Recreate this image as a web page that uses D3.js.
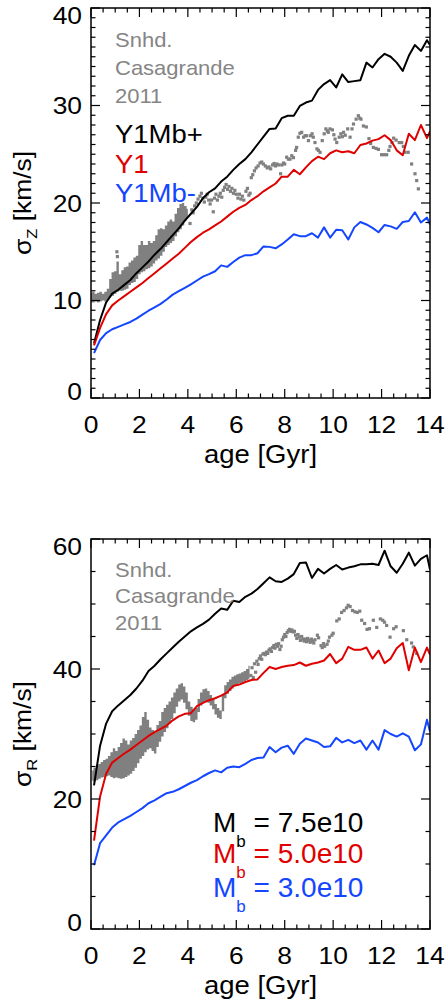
<!DOCTYPE html>
<html><head><meta charset="utf-8">
<script src="https://cdn.jsdelivr.net/npm/d3@7"></script>
<style>body{margin:0;background:#fff}svg{display:block}</style>
</head><body>
<script>
// ---------- DATA ----------
const ages = [0.125,0.375,0.625,0.875,1.125,1.375,1.625,1.875,2.125,2.375,2.625,2.875,3.125,3.375,3.625,3.875,4.125,4.375,4.625,4.875,5.125,5.375,5.625,5.875,6.125,6.375,6.625,6.875,7.125,7.375,7.625,7.875,8.125,8.375,8.625,8.875,9.125,9.375,9.625,9.875,10.125,10.375,10.625,10.875,11.125,11.375,11.625,11.875,12.125,12.375,12.625,12.875,13.125,13.375,13.625,13.875,14.0];

const sigZ_Y1Mbp = [5.6,8.0,9.8,10.7,11.1,11.6,12.1,12.8,13.4,14.0,14.7,15.3,16.0,16.7,17.4,18.2,18.9,19.6,20.5,21.1,21.5,22.2,22.7,23.4,24.0,24.5,25.2,26.0,26.8,27.6,27.65,28.7,28.95,28.95,29.95,30.3,30.5,31.6,32.2,32.6,31.85,33.2,32.4,32.5,32.6,34.4,33.9,34.75,35.3,35.0,34.4,33.55,35.1,36.2,35.6,36.7,36.2];
const sigZ_Y1 = [5.4,7.2,8.6,9.5,10.0,10.45,10.9,11.35,11.8,12.3,12.8,13.3,13.8,14.3,14.8,15.4,16.0,16.5,16.95,17.3,17.7,18.1,18.6,19.1,19.5,19.8,20.3,20.7,21.2,21.6,22.0,22.7,22.7,23.4,22.95,23.65,24.3,24.75,24.5,25.1,25.4,25.2,25.3,25.1,25.95,26.1,26.4,26.55,26.95,26.45,25.4,24.9,27.1,26.45,28.0,26.65,27.35];
const sigZ_Y1Mbm = [4.6,5.95,6.65,7.05,7.3,7.55,7.8,8.15,8.55,8.95,9.3,9.65,10.1,10.6,10.95,11.3,11.65,12.05,12.45,12.7,13.0,13.6,13.45,13.95,14.4,14.65,14.65,14.85,15.55,15.5,15.35,15.75,16.25,16.8,16.6,16.6,16.9,16.45,17.5,16.45,17.25,17.2,16.25,17.5,18.05,17.8,17.45,17.0,17.75,17.6,17.35,18.05,18.15,19.05,18.0,18.5,17.8];

const sigR_Y1Mbp = [22.1,28.2,31.6,33.5,34.4,35.2,36.0,37.0,38.2,39.7,40.5,41.5,42.4,43.3,44.2,45.0,45.8,46.4,46.95,47.6,48.5,49.3,49.1,50.5,50.3,51.1,51.6,52.3,53.2,54.1,53.5,53.4,53.9,54.6,56.3,56.4,54.0,55.4,54.7,55.4,56.0,55.3,55.6,55.8,56.1,56.1,56.2,56.0,58.2,55.8,54.8,56.2,57.9,55.9,56.95,57.5,55.3];
const sigR_Y1 = [13.6,20.4,23.9,25.6,26.3,27.0,27.6,28.3,29.0,29.7,30.3,30.8,31.3,32.1,32.7,33.1,33.2,34.3,34.8,35.2,35.5,35.9,36.4,37.4,37.6,38.0,38.3,38.4,39.4,40.3,40.0,40.3,40.5,40.6,41.0,40.5,40.8,41.0,41.3,42.3,40.9,41.6,43.4,42.95,42.95,43.3,41.6,42.85,40.9,41.6,43.2,44.0,39.8,43.3,41.05,43.3,42.2];
const sigR_Y1Mbm = [9.8,13.2,14.4,15.6,16.4,16.9,17.4,18.0,18.6,19.35,19.8,20.35,20.9,21.1,21.5,22.0,22.5,22.9,23.5,24.0,24.4,24.1,24.8,25.0,24.9,25.4,26.0,26.3,26.4,28.0,27.2,27.9,28.2,26.95,28.5,29.3,29.0,28.7,28.0,28.1,29.4,28.7,29.1,28.6,29.0,27.6,29.0,27.6,30.6,30.0,29.6,30.1,29.6,27.5,28.4,32.2,30.4];

// Casagrande 2011 (dense part: [age, low, high])
const snhdZBand = [[0.0,9.8,10.8],[0.1,9.8,10.9],[0.2,9.9,10.7],[0.3,9.8,10.8],[0.4,9.9,10.9],[0.5,10.0,10.7],[0.6,9.9,10.9],[0.7,10.1,11.2],[0.8,10.4,12.2],[0.9,10.5,12.9],[1.0,10.7,13.0],[1.1,10.9,14.0],[1.2,11.0,12.7],[1.3,11.0,13.1],[1.4,11.1,13.4],[1.5,11.2,13.5],[1.6,11.6,13.9],[1.7,11.8,14.1],[1.8,11.9,14.4],[1.9,12.2,14.6],[2.0,12.7,15.7],[2.1,12.9,16.1],[2.2,13.0,15.7],[2.3,13.2,15.7],[2.4,13.3,16.1],[2.5,13.5,15.9],[2.6,13.8,16.1],[2.7,14.1,16.7],[2.8,14.3,17.3],[2.9,14.6,17.4],[3.0,15.0,17.3],[3.1,15.5,17.7],[3.2,15.7,18.1],[3.3,15.9,18.3],[3.4,16.1,18.1],[3.5,16.6,18.9],[3.6,17.0,19.5],[3.7,17.3,19.9],[3.8,17.7,20.0],[3.9,18.2,19.7],[4.0,18.5,19.4]];
const snhdZPts = [[1.07,15.0],[1.09,14.5],[4.09,17.9],[4.16,19.3],[4.22,19.0],[4.28,19.7],[4.35,20.0],[4.42,20.4],[4.5,20.7],[4.56,21.0],[4.62,20.5],[4.68,20.1],[4.74,20.6],[4.8,20.9],[4.86,20.3],[4.92,19.9],[4.98,20.3],[5.05,19.1],[5.1,20.5],[5.16,20.9],[5.22,20.3],[5.28,20.7],[5.34,21.0],[5.4,20.6],[5.46,21.3],[5.52,21.6],[5.58,21.9],[5.64,21.4],[5.7,21.7],[5.76,21.2],[5.82,21.5],[5.88,21.0],[5.94,21.3],[6.0,20.9],[6.07,20.5],[6.13,20.9],[6.19,20.4],[6.25,20.7],[6.31,20.3],[6.4,21.2],[6.46,21.5],[6.52,20.8],[6.57,21.0],[6.62,22.6],[6.68,22.9],[6.75,23.3],[6.82,23.6],[6.9,23.8],[6.98,24.1],[7.05,24.2],[7.12,24.0],[7.2,23.8],[7.28,23.6],[7.35,23.7],[7.42,23.5],[7.5,23.9],[7.56,24.05],[7.62,23.8],[7.68,24.0],[7.75,23.9],[7.83,23.0],[7.88,23.9],[7.95,24.1],[8.0,24.0],[8.08,24.7],[8.15,24.5],[8.22,24.5],[8.29,24.85],[8.36,24.65],[8.45,25.4],[8.49,25.7],[8.56,26.75],[8.63,27.15],[8.7,27.25],[8.78,26.75],[8.84,26.9],[8.91,26.9],[8.98,26.4],[9.07,26.9],[9.13,27.1],[9.18,26.75],[9.25,26.2],[9.33,25.55],[9.39,25.4],[9.46,25.2],[9.55,26.4],[9.63,27.1],[9.7,27.6],[9.76,27.4],[9.8,27.25],[9.87,27.6],[9.97,27.5],[10.03,27.0],[10.08,26.55],[10.15,26.2],[10.25,26.75],[10.32,27.1],[10.38,26.8],[10.43,27.25],[10.5,26.95],[10.6,27.6],[10.7,26.75],[10.78,27.6],[10.84,28.1],[10.95,28.6],[11.04,28.95],[11.1,28.7],[11.15,28.6],[11.25,27.9],[11.37,27.8],[11.48,26.6],[11.55,26.1],[11.66,25.7],[11.77,25.6],[11.87,25.5],[12.0,24.95],[12.1,24.95],[12.21,24.95],[12.3,25.4],[12.35,25.8],[12.43,26.2],[12.5,26.65],[12.6,26.45],[12.73,26.2],[12.83,26.2],[12.9,25.8],[12.97,25.2],[13.1,25.2],[13.24,24.0],[13.38,23.0],[13.45,22.3],[13.52,21.45]];

const snhdRBand = [[0.05,22.8,24.4],[0.15,22.7,24.8],[0.25,22.9,25.2],[0.35,23.1,25.4],[0.45,23.3,25.7],[0.55,23.4,26.0],[0.65,23.5,26.2],[0.75,23.6,26.6],[0.85,23.4,27.2],[0.95,23.2,27.8],[1.05,23.3,27.4],[1.15,23.2,28.0],[1.25,23.1,28.6],[1.35,23.2,29.3],[1.45,23.4,29.0],[1.55,23.6,28.4],[1.65,23.9,29.0],[1.75,24.3,29.4],[1.85,24.8,30.0],[1.95,25.5,30.6],[2.05,26.2,31.3],[2.15,26.6,32.6],[2.25,27.2,33.4],[2.35,27.6,32.2],[2.45,27.8,31.0],[2.55,27.4,30.6],[2.65,27.0,30.5],[2.75,28.0,31.4],[2.85,28.8,32.0],[2.95,29.6,33.4],[3.05,30.3,34.0],[3.15,30.9,34.5],[3.25,31.6,35.0],[3.35,32.3,35.6],[3.45,33.2,36.4],[3.55,34.2,37.0],[3.65,35.0,37.6],[3.75,35.3,37.8],[3.85,34.8,37.3],[3.95,33.8,36.4],[4.05,32.8,35.0],[4.15,32.0,34.2],[4.25,31.8,33.8],[4.35,32.2,34.0],[4.45,33.4,35.4],[4.55,34.4,36.4],[4.65,34.8,36.9],[4.75,35.0,37.0],[4.85,34.8,36.6],[4.95,34.4,36.0],[5.05,33.8,35.4],[5.15,33.0,34.6],[5.25,32.5,34.0],[5.35,32.3,33.6],[5.45,33.5,36.0],[5.55,35.5,37.5],[5.65,36.2,38.0],[5.75,36.6,38.4],[5.85,37.0,38.8],[5.95,37.4,39.0],[6.05,37.6,39.2],[6.15,37.8,39.3],[6.25,37.9,39.5],[6.35,38.1,39.7],[6.45,38.3,40.0],[6.55,38.5,40.5]];
const snhdRPts = [[6.6,39.0],[6.65,40.2],[6.7,38.7],[6.75,40.8],[6.8,39.5],[6.85,41.2],[6.9,40.7],[6.95,41.6],[7.0,42.0],[7.05,41.5],[7.1,42.3],[7.15,42.4],[7.2,42.2],[7.25,42.6],[7.3,42.4],[7.35,42.9],[7.4,43.1],[7.45,42.7],[7.5,43.3],[7.55,43.6],[7.6,43.2],[7.65,43.8],[7.7,43.5],[7.75,43.9],[7.8,43.0],[7.85,43.5],[7.9,44.5],[7.95,44.9],[8.0,45.3],[8.05,45.0],[8.1,45.6],[8.15,45.9],[8.2,46.1],[8.25,45.8],[8.3,46.0],[8.35,45.7],[8.4,45.8],[8.45,45.2],[8.5,44.7],[8.55,45.3],[8.6,44.9],[8.65,44.4],[8.7,45.0],[8.75,44.6],[8.8,44.3],[8.85,44.6],[8.9,44.2],[8.95,44.7],[9.0,44.4],[9.05,44.1],[9.1,44.6],[9.15,44.3],[9.2,44.0],[9.25,44.5],[9.35,45.2],[9.4,44.8],[9.5,43.6],[9.55,43.3],[9.6,43.9],[9.65,43.5],[9.75,43.8],[9.8,44.3],[9.85,44.9],[9.95,45.2],[10.0,45.5],[10.15,47.4],[10.25,47.7],[10.35,48.7],[10.45,49.0],[10.55,49.4],[10.62,49.8],[10.7,49.6],[10.8,49.0],[10.9,48.8],[11.0,48.7],[11.1,48.9],[11.18,47.5],[11.3,47.0],[11.4,46.1],[11.5,46.2],[11.66,47.5],[11.8,46.4],[11.95,47.7],[12.05,47.5],[12.12,47.2],[12.21,46.7],[12.35,44.9],[12.5,46.2],[12.6,46.5],[12.9,45.9],[13.04,44.5],[13.24,44.0],[13.31,43.4],[13.45,42.4]];

const xTicks = [0,2,4,6,8,10,12,14];
const yTicksZ = [0,10,20,30,40];
const yTicksR = [0,20,40,60];
const legendSnhd = ["Snhd.","Casagrande","2011"];
const legendZ = ["Y1Mb+","Y1","Y1Mb-"];
const legendR = ["7.5e10","5.0e10","3.0e10"];
const colors = ["#000000","#e00000","#1446ff"];
const GRAY = "#808080";

// ---------- DRAW ----------
const svg = d3.select("body").append("svg").attr("width",448).attr("height",1005)
  .attr("font-family","'Liberation Sans', Arial, Helvetica, sans-serif");

const X0 = 91, X1 = 430;
const x = d3.scaleLinear().domain([0,14]).range([X0,X1]);

function txt(g, xx, yy, s, size, anchor, fill, sx){
  return g.append("text").attr("transform",`translate(${xx},${yy}) scale(${sx==null?1.1:sx},1)`)
    .attr("text-anchor",anchor||"start").attr("font-size",size).attr("fill",fill||"#000").text(s);
}

function panel(cfg){
  const g = svg.append("g");
  const y = d3.scaleLinear().domain([0,cfg.ymax]).range([cfg.y1,cfg.y0]);
  const id = "clip"+cfg.name;
  svg.append("clipPath").attr("id",id).append("rect")
    .attr("x",X0).attr("y",cfg.y0).attr("width",X1-X0).attr("height",cfg.y1-cfg.y0);
  const pg = g.append("g").attr("clip-path",`url(#${id})`);

  // gray dense band
  pg.append("path").datum(cfg.band)
    .attr("d", d3.area().x(d=>x(d[0])).y0(d=>y(d[1])).y1(d=>y(d[2])).curve(d3.curveStep))
    .attr("fill",GRAY);
  // gray points
  const s = 3.2;
  pg.selectAll("rect.pt").data(cfg.pts).join("rect").attr("class","pt")
    .attr("x",d=>x(d[0])-s/2).attr("y",d=>y(d[1])-s/2).attr("width",s).attr("height",s).attr("fill",GRAY);

  // model lines
  const line = d3.line().x((d,i)=>x(ages[i])).y(d=>y(d));
  cfg.series.forEach((ser,k)=>{
    pg.append("path").datum(ser).attr("d",line).attr("fill","none")
      .attr("stroke",colors[k]).attr("stroke-width",2).attr("stroke-linejoin","round");
  });

  // frame
  g.append("rect").attr("x",X0).attr("y",cfg.y0).attr("width",X1-X0).attr("height",cfg.y1-cfg.y0)
    .attr("fill","none").attr("stroke","#000").attr("stroke-width",1.5);

  // ticks (inward, all four sides)
  const tk = g.append("g").attr("stroke","#000").attr("stroke-width",1.2);
  const xMinor = d3.range(0,14.001,0.5);
  xMinor.forEach(v=>{
    const L = (v%2===0)?9:4.5;
    tk.append("line").attr("x1",x(v)).attr("x2",x(v)).attr("y1",cfg.y1).attr("y2",cfg.y1-L);
    tk.append("line").attr("x1",x(v)).attr("x2",x(v)).attr("y1",cfg.y0).attr("y2",cfg.y0+L);
  });
  const yMinor = d3.range(0,cfg.ymax+0.001,cfg.minor);
  yMinor.forEach(v=>{
    const L = (Math.abs(v%cfg.major)<1e-6)?9:4.5;
    tk.append("line").attr("y1",y(v)).attr("y2",y(v)).attr("x1",X0).attr("x2",X0+L);
    tk.append("line").attr("y1",y(v)).attr("y2",y(v)).attr("x1",X1).attr("x2",X1-L);
  });

  // tick labels
  xTicks.forEach(v=>txt(g, x(v), cfg.y1+35, String(v), 24, "middle"));
  cfg.yTicks.forEach(v=>{
    let yy = y(v) + 8.5;
    if (v===cfg.ymax) yy += 7;
    if (v===0) yy -= 7;
    txt(g, X0-9, yy, String(v), 24, "end");
  });

  // axis titles
  txt(g, (X0+X1)/2, cfg.y1+64.5, "age [Gyr]", 25, "middle");
  const yt = g.append("text").attr("transform",`translate(31,${(cfg.y0+cfg.y1)/2}) rotate(-90) scale(1.1,1)`)
    .attr("text-anchor","middle").attr("font-size",24);
  yt.append("tspan").text("σ");
  yt.append("tspan").attr("font-size",15).attr("dy",6).text(cfg.sub);
  yt.append("tspan").attr("dy",-6).text(" [km/s]");

  // Snhd legend
  legendSnhd.forEach((s,i)=>txt(g, 115, cfg.snhdY[i], s, 20, "start", "#858585"));
  return g;
}

const gz = panel({name:"Z", y0:8, y1:398, ymax:40, major:10, minor:1, yTicks:yTicksZ, sub:"Z",
  band:snhdZBand, pts:snhdZPts, series:[sigZ_Y1Mbp,sigZ_Y1,sigZ_Y1Mbm], snhdY:[46.7,75,103.3]});
legendZ.forEach((s,i)=>txt(gz, 115, [143.3,173.3,201.7][i], s, 25, "start", colors[i]));

const gr = panel({name:"R", y0:539, y1:929, ymax:60, major:20, minor:5, yTicks:yTicksR, sub:"R",
  band:snhdRBand, pts:snhdRPts, series:[sigR_Y1Mbp,sigR_Y1,sigR_Y1Mbm], snhdY:[576.7,603.3,630]});
legendR.forEach((s,i)=>{
  const t = gr.append("text").attr("x",213).attr("y",[832,863.3,896.7][i])
    .attr("font-size",28).attr("fill",colors[i]);
  t.append("tspan").text("M");
  t.append("tspan").attr("font-size",17).attr("dy",15).text("b");
  t.append("tspan").attr("font-size",28).attr("dy",-15).text(" = "+s);
});
</script>
</body></html>
